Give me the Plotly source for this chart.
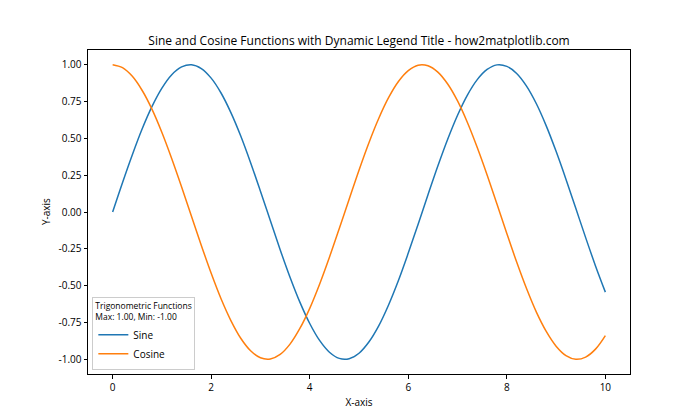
import plotly.graph_objects as go

x_vals = [0.0, 0.2, 0.4, 0.6, 0.8, 1.0, 1.2, 1.4, 1.6, 1.8, 2.0, 2.2, 2.4, 2.6, 2.8, 3.0,
          3.2, 3.4, 3.6, 3.8, 4.0, 4.2, 4.4, 4.6, 4.8, 5.0, 5.2, 5.4, 5.6, 5.8, 6.0, 6.2,
          6.4, 6.6, 6.8, 7.0, 7.2, 7.4, 7.6, 7.8, 8.0, 8.2, 8.4, 8.6, 8.8, 9.0, 9.2, 9.4,
          9.6, 9.8, 10.0]
sine_vals = [0.000, 0.199, 0.389, 0.565, 0.717, 0.841, 0.932, 0.985, 1.000, 0.974, 0.909,
             0.808, 0.675, 0.516, 0.335, 0.141, -0.058, -0.256, -0.443, -0.612, -0.757,
             -0.872, -0.952, -0.994, -0.996, -0.959, -0.883, -0.773, -0.631, -0.465, -0.279,
             -0.083, 0.117, 0.312, 0.494, 0.657, 0.794, 0.899, 0.968, 0.999, 0.989, 0.941,
             0.855, 0.735, 0.585, 0.412, 0.223, 0.025, -0.174, -0.366, -0.544]
cosine_vals = [1.000, 0.980, 0.921, 0.825, 0.697, 0.540, 0.362, 0.170, -0.029, -0.227,
               -0.416, -0.589, -0.737, -0.857, -0.942, -0.990, -0.998, -0.967, -0.897,
               -0.791, -0.654, -0.490, -0.307, -0.112, 0.087, 0.284, 0.469, 0.635, 0.776,
               0.886, 0.960, 0.997, 0.993, 0.950, 0.869, 0.754, 0.608, 0.438, 0.252, 0.054,
               -0.146, -0.340, -0.520, -0.680, -0.811, -0.911, -0.975, -1.000, -0.985,
               -0.931, -0.839]
x_ticks = [0, 2, 4, 6, 8, 10]
y_ticks = [-1.0, -0.75, -0.5, -0.25, 0.0, 0.25, 0.5, 0.75, 1.0]
y_tick_text = ["-1.00", "-0.75", "-0.50", "-0.25", "0.00", "0.25", "0.50", "0.75", "1.00"]

FONT = "Open Sans"

fig = go.Figure()
fig.add_trace(go.Scatter(x=x_vals, y=sine_vals, mode="lines", name="Sine",
                         line=dict(color="#1f77b4", width=1.5, shape="spline")))
fig.add_trace(go.Scatter(x=x_vals, y=cosine_vals, mode="lines", name="Cosine",
                         line=dict(color="#ff7f0e", width=1.5, shape="spline")))

axis_common = dict(showline=True, linecolor="black", linewidth=1, mirror=True,
                   ticks="outside", ticklen=3.5, tickcolor="black", tickwidth=1,
                   showgrid=False, zeroline=False,
                   tickfont=dict(family=FONT, size=10, color="black"))

fig.update_layout(
    width=700, height=420,
    margin=dict(l=88, r=70, t=50, b=46),
    paper_bgcolor="white", plot_bgcolor="white",
    font=dict(family=FONT, color="black"),
    title=dict(text="Sine and Cosine Functions with Dynamic Legend Title - how2matplotlib.com",
               x=(88 + 630) / 2 / 700, xanchor="center", y=1 - 45 / 420, yanchor="bottom",
               font=dict(family=FONT, size=12, color="black")),
    xaxis=dict(range=[-0.5, 10.5], tickvals=x_ticks,
               title=dict(text="X-axis", font=dict(family=FONT, size=10), standoff=6),
               **axis_common),
    yaxis=dict(range=[-1.1, 1.1], tickvals=y_ticks, ticktext=y_tick_text,
               **axis_common),
    legend=dict(
        x=0.008, y=0.012, xanchor="left", yanchor="bottom",
        bgcolor="rgba(255,255,255,0.8)", bordercolor="#cccccc", borderwidth=1,
        font=dict(family=FONT, size=10, color="black"),
        title=dict(text="Trigonometric Functions<br>Max: 1.00, Min: -1.00",
                   font=dict(family=FONT, size=8.5, color="black"), side="top"),
        itemwidth=30, tracegroupgap=0,
    ),
    showlegend=True,
)
fig.add_annotation(text="Y-axis", xref="paper", yref="paper", x=-42 / 542, y=0.5,
                   xanchor="center", yanchor="middle", textangle=-90, showarrow=False,
                   font=dict(family=FONT, size=10, color="black"))

fig.write_html("out.html", config={"displayModeBar": False},
               post_script="document.body.style.margin='0';document.body.style.padding='0';")
